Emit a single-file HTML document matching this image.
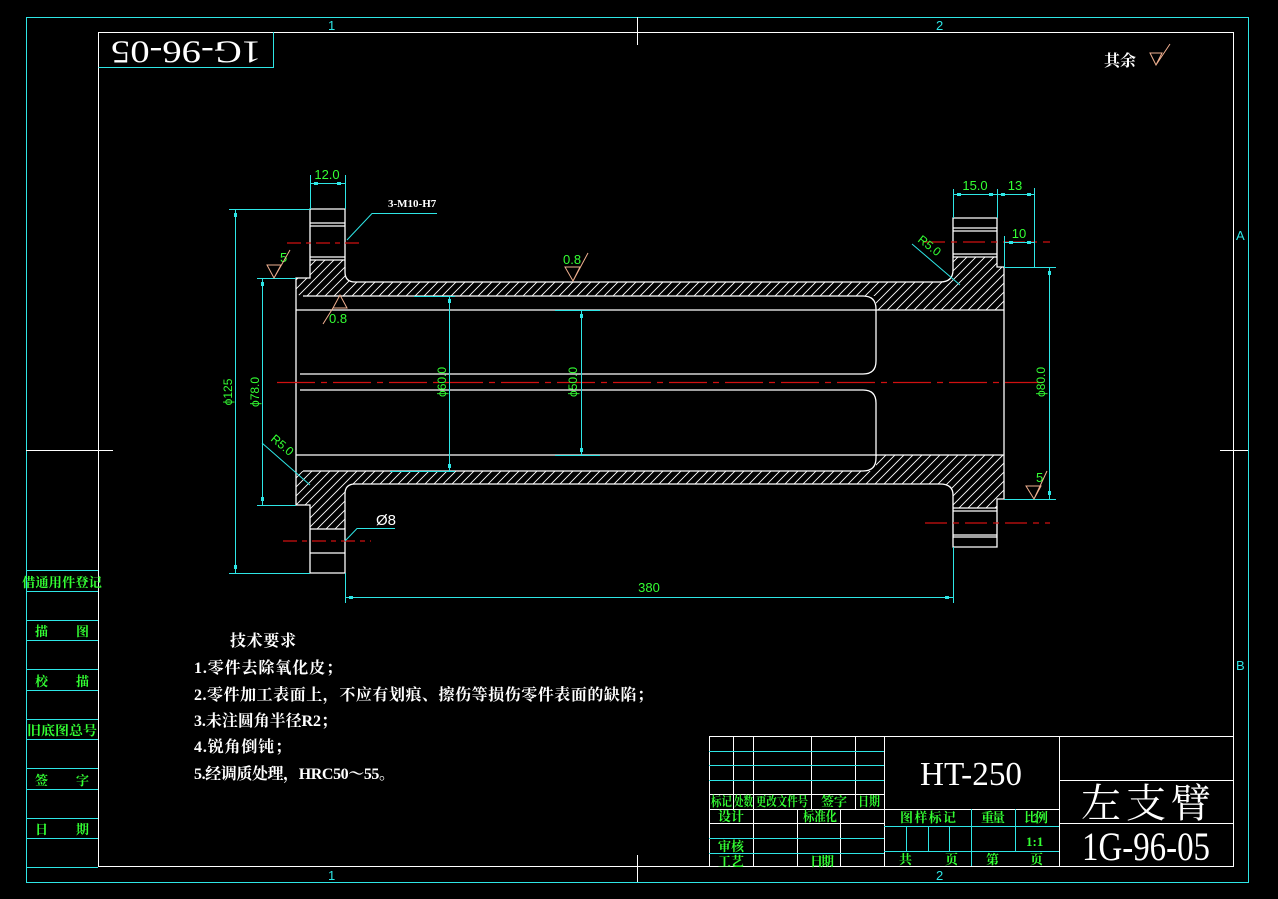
<!DOCTYPE html>
<html><head><meta charset="utf-8">
<style>
html,body{margin:0;padding:0;background:#000;}
svg{display:block;}
.g{fill:#33ff33;font-size:12px;font-family:"Liberation Sans","Noto Sans CJK SC",sans-serif;}
.gc{fill:#33ff33;font-size:13px;font-weight:bold;font-family:"Liberation Serif","Noto Serif CJK SC",serif;}
.w{fill:#fff;}
</style></head><body>
<svg width="1278" height="899" viewBox="0 0 1278 899" xmlns="http://www.w3.org/2000/svg">
<defs>
<pattern id="h" patternUnits="userSpaceOnUse" width="9" height="9">
<path d="M-1,1 l2,-2 M0,9 l9,-9 M8,10 l2,-2" stroke="#fff" stroke-width="0.9"/>
</pattern>
</defs>
<rect width="1278" height="899" fill="#000"/>
<!-- borders -->
<rect x="26.5" y="17.5" width="1222" height="865" fill="none" stroke="#2ee6e6"/>
<rect x="98.5" y="32.5" width="1135" height="834" fill="none" stroke="#fff"/>
<g stroke="#fff">
<line x1="637.5" y1="17" x2="637.5" y2="45"/>
<line x1="637.5" y1="855" x2="637.5" y2="882"/>
<line x1="26" y1="450.5" x2="113" y2="450.5"/>
<line x1="1220" y1="450.5" x2="1248" y2="450.5"/>
</g>
<g fill="#2ee6e6" font-size="13" style="font-family:'Liberation Sans',sans-serif">
<text x="328" y="30">1</text><text x="936" y="30">2</text>
<text x="328" y="880">1</text><text x="936" y="880">2</text>
<text x="1236" y="240">A</text><text x="1236" y="670">B</text>
</g>
<!-- top-left mirrored box -->
<path d="M98.5,67.5 H273.5 V32" fill="none" stroke="#2ee6e6"/>
<text x="186" y="49" transform="rotate(180 186 49)" text-anchor="middle" dominant-baseline="middle" class="w" font-size="32" style="font-family:'Liberation Serif',serif" textLength="150" lengthAdjust="spacingAndGlyphs">1G-96-05</text>
<!-- 其余 -->
<text x="1104" y="66" class="w" font-size="16" style="font-family:'Noto Serif CJK SC',serif;font-weight:bold">其余</text>
<g stroke="#f0b090" fill="none" stroke-width="1">
<path d="M1150,53 L1156,65 L1162,53 Z M1156,65 L1170,44"/>
</g>

<!-- hatching -->
<path d="M296,278 H310 V260 H345 V272 Q345,282 355,282 H940 Q953,282 953,270 V257 H997 V267 H1004 V310 H876 V296 H303 Q296,296 296,290 Z" fill="url(#h)"/>
<path d="M296,505 H310 V529 H345 V494 Q345,484 355,484 H940 Q953,484 953,495 V508 H997 V499 H1004 V455 H876 V471 H303 Q296,471 296,478 Z" fill="url(#h)"/>

<!-- part outline -->
<g stroke="#fff" fill="none" stroke-width="1.3">
<path d="M296,278 H310 V209 H345 V272 Q345,282 355,282 H940 Q953,282 953,270 V218 H997 V267 H1004 V499 H997 V547 H953 V495 Q953,484 940,484 H355 Q345,484 345,494 V573 H310 V505 H296 Z"/>
<path d="M310,223 H345 M310,226 H345 M310,257 H345 M310,260 H345"/>
<path d="M310,529 H345 M310,553 H345"/>
<path d="M953,228 H997 M953,231 H997 M953,254 H997 M953,257 H997"/>
<path d="M953,508 H997 M953,511 H997 M953,535 H997 M953,537 H997"/>
<path d="M303,296 H863 Q876,296 876,309 V361 Q876,374 863,374 H300"/>
<path d="M303,471 H863 Q876,471 876,458 V403 Q876,390 863,390 H300"/>
<path d="M296,310 H1004 M296,455 H1004"/>
</g>
<!-- center lines -->
<g stroke="#d01010" stroke-width="1.2" fill="none">
<line x1="277" y1="382.5" x2="1050" y2="382.5" stroke-dasharray="38,6,6,6"/>
<line x1="287" y1="243" x2="362" y2="243" stroke-dasharray="14,5,5,5"/>
<line x1="283" y1="541" x2="371" y2="541" stroke-dasharray="14,5,5,5"/>
<line x1="923" y1="242" x2="1050" y2="242" stroke-dasharray="22,6,6,6"/>
<line x1="925" y1="523" x2="1050" y2="523" stroke-dasharray="22,6,6,6"/>
</g>

<!-- dimensions -->
<g stroke="#2ee6e6" fill="none" stroke-width="1">
<path d="M310.5,175 V209 M345.5,175 V209 M310,183.5 H345"/>
<path d="M229,209.5 H310 M229,573.5 H310 M235.5,209 V573"/>
<path d="M257,278.5 H296 M257,505.5 H296 M262.5,278 V505"/>
<path d="M414,296.5 H455 M449.5,296 V471 M390,471.5 H455"/>
<path d="M555,310.5 H600 M581.5,310 V455 M555,455.5 H600"/>
<path d="M1004,267.5 H1056 M1004,499.5 H1056 M1049.5,267 V499"/>
<path d="M345.5,573 V603 M953.5,547 V603 M345,597.5 H953"/>
<path d="M953.5,189 V218 M997.5,189 V218 M1034.5,188 V267 M953,194.5 H1034"/>
<path d="M1004.5,236 V267 M1004,242.5 H1034"/>
<path d="M912,244 L960,285"/>
<path d="M262,443 L310,485"/>
<path d="M437,213.5 H372 L347,240"/>
<path d="M395,528.5 H357 L345,541"/>
</g>
<g fill="#2ee6e6">
<rect x="314" y="182" width="4" height="3"/><rect x="337" y="182" width="4" height="3"/>
<rect x="234" y="213" width="3" height="4"/><rect x="234" y="565" width="3" height="4"/>
<rect x="261" y="282" width="3" height="4"/><rect x="261" y="497" width="3" height="4"/>
<rect x="448" y="299" width="3" height="4"/><rect x="448" y="464" width="3" height="4"/>
<rect x="580" y="314" width="3" height="4"/><rect x="580" y="448" width="3" height="4"/>
<rect x="1048" y="271" width="3" height="4"/><rect x="1048" y="491" width="3" height="4"/>
<rect x="349" y="596" width="4" height="3"/><rect x="945" y="596" width="4" height="3"/>
<rect x="957" y="193" width="4" height="3"/><rect x="989" y="193" width="4" height="3"/>
<rect x="1001" y="193" width="4" height="3"/><rect x="1027" y="193" width="4" height="3"/>
<rect x="1009" y="241" width="4" height="3"/><rect x="1027" y="241" width="4" height="3"/>
</g>
<g class="g" font-size="12">
<text x="327" y="179" text-anchor="middle" font-size="13">12.0</text>
<text x="975" y="190" text-anchor="middle" font-size="13">15.0</text>
<text x="1015" y="190" text-anchor="middle" font-size="13">13</text>
<text x="1019" y="238" text-anchor="middle" font-size="13">10</text>
<text x="649" y="592" text-anchor="middle" font-size="13">380</text>
<text transform="translate(232,392) rotate(-90)" text-anchor="middle">ϕ125</text>
<text transform="translate(259,392) rotate(-90)" text-anchor="middle">ϕ78.0</text>
<text transform="translate(446,382) rotate(-90)" text-anchor="middle">ϕ60.0</text>
<text transform="translate(577,382) rotate(-90)" text-anchor="middle">ϕ50.0</text>
<text transform="translate(1045,382) rotate(-90)" text-anchor="middle">ϕ80.0</text>
<text transform="translate(917,241) rotate(38)">R5.0</text>
<text transform="translate(270,440) rotate(40)">R5.0</text>
<text x="280" y="262" font-size="13">5</text>
<text x="563" y="264" font-size="13">0.8</text>
<text x="329" y="323" font-size="13">0.8</text>
<text x="1036" y="482" font-size="13">5</text>
</g>
<text x="388" y="207" class="w" font-size="11" style="font-family:'Liberation Serif',serif;font-weight:bold">3-M10-H7</text>
<text x="376" y="525" class="w" font-size="15" style="font-family:'Liberation Sans',sans-serif">Ø8</text>
<!-- roughness symbols -->
<g stroke="#f0b090" fill="none">
<path d="M267,265 H281 L274,278 Z M274,278 L290,250"/>
<path d="M565,267 H580 L573,281 Z M573,281 L588,253"/>
<path d="M333,308 H347 L340,295 Z M333,308 L323,324"/>
<path d="M1026,486 H1041 L1034,499 Z M1034,499 L1047,471"/>
</g>

<!-- technical requirements -->
<g class="w" style="font-family:'Liberation Serif','Noto Serif CJK SC',serif;font-weight:bold" font-size="16">
<text x="230" y="646" textLength="66">技术要求</text>
<text x="194" y="673" textLength="148">1.零件去除氧化皮；</text>
<text x="194" y="700" textLength="459">2.零件加工表面上，不应有划痕、擦伤等损伤零件表面的缺陷；</text>
<text x="194" y="726" textLength="143">3.未注圆角半径R2；</text>
<text x="194" y="752" textLength="97">4.锐角倒钝；</text>
<text x="194" y="779" textLength="201">5.经调质处理，HRC50～55。</text>
</g>

<!-- left strip -->
<g stroke="#2ee6e6">
<line x1="26.5" y1="560" x2="26.5" y2="882"/>
<path d="M26,570.5 H98 M26,591.5 H98 M26,620.5 H98 M26,640.5 H98 M26,669.5 H98 M26,690.5 H98 M26,719.5 H98 M26,739.5 H98 M26,768.5 H98 M26,789.5 H98 M26,818.5 H98 M26,838.5 H98 M26,867.5 H98"/>
</g>
<g class="gc" font-size="15" text-anchor="middle">
<text x="62" y="587" textLength="80" lengthAdjust="spacingAndGlyphs">借通用件登记</text>
<text x="62" y="636" textLength="54">描　图</text>
<text x="62" y="686" textLength="54">校　描</text>
<text x="62" y="735" textLength="70" lengthAdjust="spacingAndGlyphs">旧底图总号</text>
<text x="62" y="785" textLength="54">签　字</text>
<text x="62" y="834" textLength="54">日　期</text>
</g>

<!-- title block -->
<g stroke="#fff" fill="none">
<rect x="709.5" y="736.5" width="524" height="130"/>
<path d="M709,794.5 H884 M709,809.5 H1059 M709,823.5 H884 M1059,780.5 H1233 M1059,823.5 H1233"/>
<path d="M884.5,736 V866 M1059.5,736 V866"/>
<path d="M733.5,736 V809 M753.5,736 V866 M811.5,736 V809 M855.5,736 V809 M797.5,809 V866 M840.5,809 V866"/>
</g>
<g stroke="#2ee6e6" fill="none">
<path d="M709,751.5 H884 M709,765.5 H884 M709,780.5 H884 M709,838.5 H884 M709,853.5 H884"/>
<path d="M884,826.5 H1059 M884,851.5 H1059"/>
<path d="M906.5,826 V851 M928.5,826 V851 M949.5,826 V851 M971.5,809 V866 M1015.5,809 V851"/>
</g>
<g class="gc" font-size="12">
<text x="711" y="806" textLength="21" lengthAdjust="spacingAndGlyphs">标记</text>
<text x="734" y="806" textLength="19" lengthAdjust="spacingAndGlyphs">处数</text>
<text x="756" y="806" textLength="52" lengthAdjust="spacingAndGlyphs">更改文件号</text>
<text x="821" y="806" textLength="26">签 字</text>
<text x="858" y="806" textLength="22" lengthAdjust="spacingAndGlyphs">日期</text>
<text x="718" y="821" textLength="26">设 计</text>
<text x="803" y="821" textLength="34" lengthAdjust="spacingAndGlyphs">标准化</text>
<text x="718" y="851" textLength="26">审 核</text>
<text x="718" y="866" textLength="26">工 艺</text>
<text x="810" y="866" textLength="24">日 期</text>
<text x="900" y="822" textLength="56">图 样 标 记</text>
<text x="981" y="822" textLength="24">重量</text>
<text x="1024" y="822" textLength="24">比 例</text>
<text x="1026" y="846">1:1</text>
<text x="899" y="864">共</text>
<text x="945" y="864">页</text>
<text x="986" y="864">第</text>
<text x="1030" y="864">页</text>
</g>
<text x="971" y="785" text-anchor="middle" class="w" font-size="34" style="font-family:'Liberation Serif',serif" textLength="102" lengthAdjust="spacingAndGlyphs">HT-250</text>
<text x="1146" y="817" text-anchor="middle" class="w" font-size="40" style="font-family:'Noto Serif CJK SC',serif" textLength="130">左 支 臂</text>
<text x="1146" y="860" text-anchor="middle" class="w" font-size="40" style="font-family:'Liberation Serif',serif" textLength="128" lengthAdjust="spacingAndGlyphs">1G-96-05</text>
</svg>
</body></html>
